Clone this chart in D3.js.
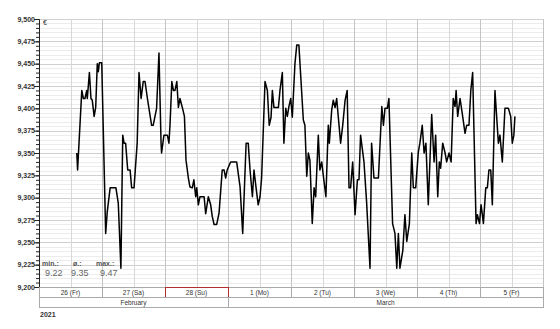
<!DOCTYPE html>
<html>
<head>
<meta charset="utf-8">
<script src="https://cdn.jsdelivr.net/npm/d3@7"></script>
<style>
  body { margin: 0; background: #fff; }
  svg { display: block; font-family: "Liberation Sans", Arial, sans-serif; }
</style>
</head>
<body>
<div class="graphic"></div>
<script>
// hours after 26 Feb 2021 00:00 and the price read at that time
var hours = [14.4, 14.7, 16.3, 16.9, 17.5, 18.2, 18.4, 19.2, 19.8, 20.3, 21.0, 21.6, 22.2, 22.6, 23.0, 23.9,
  25.4, 26.0, 27.1, 29.3, 30.2, 31.2, 31.9, 32.4, 33.0, 33.8, 34.7, 35.3, 36.2, 37.4, 38.1, 38.9, 39.7, 40.4,
  41.3, 42.9, 43.5, 44.8, 45.7, 46.5, 46.7, 47.6, 48.9, 49.5, 49.9, 50.6, 51.2, 51.8, 52.5, 53.1, 53.7, 54.6,
  55.4, 56.0, 56.9, 57.5, 58.4, 59.0, 59.7, 60.1, 60.7, 61.3, 62.9, 63.5, 64.5, 65.4, 66.0, 66.7, 67.7, 68.6,
  69.8, 70.5, 71.1, 71.7, 73.0, 75.3, 76.6, 77.6, 78.9, 79.7, 80.4, 81.3, 81.9, 82.7, 83.5, 84.2, 84.8, 86.1,
  87.0, 87.7, 88.4, 88.9, 89.5, 91.2, 91.8, 92.7, 93.3, 94.0, 94.6, 95.2, 95.9, 96.5, 97.5, 98.2, 99.0, 100.7,
  101.3, 102.0, 102.6, 103.2, 104.1, 104.8, 105.4, 106.4, 107.0, 107.7, 108.3, 109.3, 110.2, 110.6, 111.5,
  112.1, 112.8, 113.4, 114.0, 114.9, 115.7, 116.6, 117.4, 118.1, 118.7, 119.5, 120.4, 121.3, 121.9, 122.5,
  123.8, 124.8, 126.1, 126.7, 127.6, 129.3, 130.6, 131.2, 131.8, 132.7, 133.3, 134.7, 135.6, 136.3, 136.9,
  137.5, 138.6, 139.4, 140.1, 141.1, 142.0, 142.6, 143.5, 144.5, 145.1, 146.0, 146.7, 147.4, 148.3, 149.6,
  150.5, 151.1, 151.9, 152.5, 153.0, 153.8, 154.7, 155.3, 156.2, 157.0, 157.8, 158.5, 158.9, 159.5, 160.4,
  161.3, 162.3, 162.9, 163.8, 164.5, 165.2, 166.5, 167.0, 167.8, 168.4, 168.9, 169.3, 170.2, 170.8, 171.4,
  172.1, 172.7, 173.7, 175.0, 175.6, 176.5, 177.5, 178.8, 179.7, 180.3, 180.9, 181.3];
var prices = [9.350, 9.331, 9.420, 9.411, 9.411, 9.420, 9.411, 9.440, 9.411, 9.409, 9.391, 9.401, 9.450, 9.441, 9.451, 9.451,
  9.260, 9.284, 9.311, 9.311, 9.294, 9.221, 9.370, 9.361, 9.361, 9.331, 9.331, 9.311, 9.311, 9.361, 9.440, 9.411, 9.430, 9.430,
  9.411, 9.381, 9.381, 9.400, 9.462, 9.361, 9.350, 9.370, 9.370, 9.361, 9.381, 9.430, 9.420, 9.420, 9.430, 9.401, 9.411, 9.401,
  9.391, 9.342, 9.322, 9.312, 9.311, 9.320, 9.301, 9.311, 9.292, 9.301, 9.301, 9.282, 9.301, 9.292, 9.279, 9.270, 9.270, 9.283,
  9.331, 9.331, 9.322, 9.331, 9.340, 9.340, 9.312, 9.260, 9.361, 9.361, 9.331, 9.301, 9.331, 9.311, 9.292, 9.301, 9.322, 9.430,
  9.420, 9.381, 9.390, 9.420, 9.401, 9.401, 9.420, 9.440, 9.361, 9.400, 9.391, 9.402, 9.411, 9.390, 9.450, 9.471, 9.471, 9.387,
  9.381, 9.324, 9.350, 9.342, 9.271, 9.311, 9.301, 9.370, 9.331, 9.340, 9.325, 9.301, 9.381, 9.361, 9.398,
  9.409, 9.401, 9.411, 9.391, 9.361, 9.381, 9.409, 9.420, 9.311, 9.311, 9.340, 9.281, 9.320, 9.320, 9.370,
  9.340, 9.295, 9.221, 9.361, 9.322, 9.322, 9.402, 9.381, 9.400, 9.400, 9.411, 9.271, 9.260, 9.221, 9.260,
  9.221, 9.241, 9.281, 9.251, 9.271, 9.350, 9.311, 9.311, 9.351, 9.361, 9.381, 9.350, 9.361, 9.292, 9.393,
  9.340, 9.370, 9.301, 9.340, 9.333, 9.361, 9.350, 9.340, 9.350, 9.340, 9.411, 9.402, 9.420, 9.391, 9.411,
  9.393, 9.372, 9.381, 9.381, 9.420, 9.440, 9.271, 9.281, 9.271, 9.292, 9.281, 9.271, 9.311, 9.311, 9.331,
  9.331, 9.292, 9.420, 9.361, 9.370, 9.340, 9.400, 9.400, 9.391, 9.361, 9.370, 9.391];

var dayLabels = ['26 (Fr)', '27 (Sa)', '28 (Su)', '1 (Mo)', '2 (Tu)', '3 (We)', '4 (Th)', '5 (Fr)'];
var monthLabels = ['February', 'March'];
var statLabels = ['min.:', 'ø.:', 'max.:'];
var statValues = ['9.22', '9.35', '9.47'];
var yearLabel = '2021';
var unitLabel = '€';

var width = 560, height = 329;
var margin = { top: 19, right: 17, bottom: 42, left: 39 };
var start = Date.UTC(2021, 1, 26);
var end = Date.UTC(2021, 2, 6);
var monthStart = [Date.UTC(2021, 1, 26), Date.UTC(2021, 2, 1)];
var monthEnd = [Date.UTC(2021, 2, 1), Date.UTC(2021, 2, 6)];

var data = hours.map(function (h, i) {
	return { date: new Date(start + h * 3600e3), price: prices[i] };
});

var x = d3.scaleUtc().domain([new Date(start), new Date(end)]).range([margin.left, width - margin.right]);
var y = d3.scaleLinear().domain([9.2, 9.5]).range([height - margin.bottom, margin.top]);

var svg = d3.select('.graphic').append('svg').attr('width', width).attr('height', height);

// horizontal grid, minor then major
svg.append('g').selectAll('line')
	.data(d3.range(9.2, 9.5001, 0.005))
	.enter().append('line')
	.attr('x1', x.range()[0]).attr('x2', x.range()[1])
	.attr('y1', function (d) { return Math.round(y(d)) + 0.5; })
	.attr('y2', function (d) { return Math.round(y(d)) + 0.5; })
	.attr('stroke', '#ececec');
svg.append('g').selectAll('line')
	.data(d3.range(9.2, 9.5001, 0.025))
	.enter().append('line')
	.attr('x1', x.range()[0]).attr('x2', x.range()[1])
	.attr('y1', function (d) { return Math.round(y(d)) + 0.5; })
	.attr('y2', function (d) { return Math.round(y(d)) + 0.5; })
	.attr('stroke', '#d0d0d0');

// vertical grid every 12 hours
svg.append('g').selectAll('line')
	.data(d3.utcHour.every(12).range(new Date(start + 1), new Date(end + 1)))
	.enter().append('line')
	.attr('x1', function (d) { return Math.round(x(d)) + 0.5; })
	.attr('x2', function (d) { return Math.round(x(d)) + 0.5; })
	.attr('y1', y.range()[1]).attr('y2', y.range()[0])
	.attr('stroke', function (d) { return d.getUTCHours() === 0 ? '#c4c4c4' : '#d8d8d8'; });

// y axis
var yAxis = d3.axisLeft(y)
	.tickValues(d3.range(9.2, 9.5001, 0.025))
	.tickSize(5)
	.tickFormat(function (d) { return d3.format('.3f')(d).replace('.', ','); });
var yg = svg.append('g').attr('transform', 'translate(' + margin.left + ',0)').call(yAxis);
yg.select('.domain').attr('stroke', '#222');
yg.selectAll('.tick line').attr('stroke', '#222');
yg.selectAll('.tick text').attr('font-size', 7).attr('fill', '#333').attr('font-weight', 'bold').attr('x', -4);
svg.append('g').attr('transform', 'translate(' + margin.left + ',0)')
	.call(d3.axisLeft(y).tickValues(d3.range(9.2, 9.5001, 0.005)).tickSize(3).tickFormat(''))
	.call(function (g) { g.select('.domain').remove(); g.selectAll('line').attr('stroke', '#222'); });

svg.append('text').attr('x', margin.left + 4).attr('y', margin.top + 6)
	.attr('font-size', 7).attr('fill', '#333').text(unitLabel);

// price line
var line = d3.line()
	.x(function (d) { return x(d.date); })
	.y(function (d) { return y(d.price); });
svg.append('path').datum(data)
	.attr('d', line)
	.attr('fill', 'none')
	.attr('stroke', '#000')
	.attr('stroke-width', 1.5)
	.attr('stroke-linejoin', 'round');

// stats
var statX = [42, 73, 96];
var statG = svg.append('g');
statLabels.forEach(function (s, i) {
	statG.append('text').attr('x', statX[i]).attr('y', 266)
		.attr('font-size', 7).attr('font-weight', 'bold').attr('fill', '#555').text(s);
	statG.append('text').attr('x', statX[i] + [3, -2, 4][i]).attr('y', 276)
		.attr('font-size', 9).attr('fill', '#666').text(statValues[i]);
});

// day band
var band1 = y.range()[0], band2 = band1 + 10, band3 = band2 + 10;
var days = d3.utcDay.range(new Date(start), new Date(end));
var dayG = svg.append('g');
dayG.selectAll('rect').data(days).enter().append('rect')
	.attr('x', function (d) { return x(d) + 0.5; })
	.attr('y', band1 + 0.5)
	.attr('width', function (d) { return x(d3.utcDay.offset(d, 1)) - x(d); })
	.attr('height', 10)
	.attr('fill', '#fff')
	.attr('stroke', '#aaa');
dayG.selectAll('text').data(days).enter().append('text')
	.attr('x', function (d) { return (x(d) + x(d3.utcDay.offset(d, 1))) / 2; })
	.attr('y', band1 + 8)
	.attr('text-anchor', 'middle')
	.attr('font-size', 6.5).attr('fill', '#333')
	.text(function (d, i) { return dayLabels[i]; });
// highlighted Sunday
var sun = days[2];
dayG.append('rect')
	.attr('x', x(sun) + 0.5).attr('y', band1 + 0.5)
	.attr('width', x(d3.utcDay.offset(sun, 1)) - x(sun)).attr('height', 10)
	.attr('fill', 'none').attr('stroke', '#b03030');

// month band
var monthG = svg.append('g');
monthLabels.forEach(function (m, i) {
	monthG.append('rect')
		.attr('x', x(monthStart[i]) + 0.5).attr('y', band2 + 0.5)
		.attr('width', x(monthEnd[i]) - x(monthStart[i])).attr('height', 10)
		.attr('fill', '#fff').attr('stroke', '#aaa');
	monthG.append('text')
		.attr('x', (x(monthStart[i]) + x(monthEnd[i])) / 2).attr('y', band2 + 8)
		.attr('text-anchor', 'middle').attr('font-size', 6.5).attr('fill', '#333').text(m);
});

svg.append('text').attr('x', 40).attr('y', band3 + 10)
	.attr('font-size', 7).attr('font-weight', 'bold').attr('fill', '#333').text(yearLabel);
</script>
</body>
</html>
